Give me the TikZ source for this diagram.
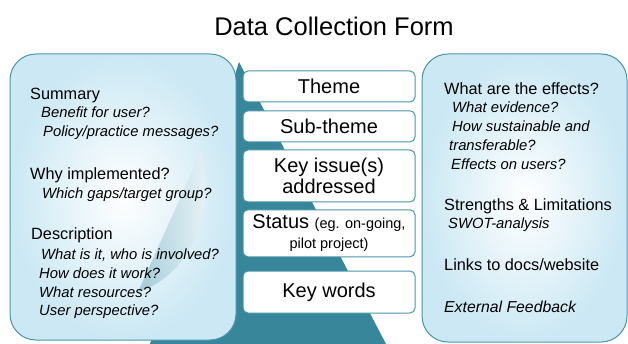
\documentclass[tikz,border=0pt]{standalone}
\usepackage{fontspec}
\setmainfont{Liberation Sans}

\definecolor{formteal}{RGB}{56,134,154}
\definecolor{formline}{RGB}{72,150,170}
\definecolor{formblue}{RGB}{203,232,244}

\tikzset{
  sidebox/.style={draw=formline, line width=1pt, rounded corners=26pt,
    inner color=white, outer color=formblue},
  itembox/.style={draw=formline, line width=1pt, fill=white, rounded corners=5pt,
    minimum width=172pt, inner sep=0pt, align=center,
    font=\fontsize{20}{21}\selectfont},
  head/.style={anchor=base west, inner sep=0pt, font=\fontsize{16.3}{18}\selectfont},
  ask/.style={anchor=base west, inner sep=0pt, font=\fontsize{14.8}{17}\selectfont\itshape},
}

\begin{document}
\begin{tikzpicture}[x=1pt, y=-1pt]
  \useasboundingbox (0,0) rectangle (628,344);
  \node[anchor=base, inner sep=0pt, font=\fontsize{25.5}{28}\selectfont] (title) at (334,36) {Data Collection Form};

  % teal wedge behind the boxes
  \fill[formteal] (239,62) -- (386,344) -- (150,344) -- cycle;

  % side panels
  \draw[sidebox] (10,54) rectangle (236,340);
  \shade[left color=formteal!55!formblue, right color=white, opacity=0.6]
    (201,152) -- (138,292) .. controls (190,275) and (216,215) .. (201,152);
  \draw[sidebox] (422,54) rectangle (627,342);

  % middle column
  \node[itembox, minimum height=31pt] (theme) at (329,86.5) {Theme};
  \node[itembox, minimum height=31pt] (subtheme) at (329,126.3) {Sub-theme};
  \node[itembox, minimum height=52pt] (issue) at (329,176) {Key issue(s)\\addressed};
  \node[itembox, minimum height=47pt] (status) at (329,233.3)
    {Status {\fontsize{14.5}{16}\selectfont (eg. on-going,}\\[-1pt]{\fontsize{14.5}{16}\selectfont pilot project)}};
  \node[itembox, minimum height=42pt] (words) at (329,292) {Key words};

  % left panel text
  \node[head] (sum) at (30,100) {Summary};
  \node[ask] (sum1) at (41,118) {Benefit for user?};
  \node[ask] (sum2) at (43,137) {Policy/practice messages?};
  \node[head] (why) at (30,180) {Why implemented?};
  \node[ask] (why1) at (42,199) {Which gaps/target group?};
  \node[head] (desc) at (31,240) {Description};
  \node[ask] (desc1) at (41,260) {What is it, who is involved?};
  \node[ask] (desc2) at (39,278) {How does it work?};
  \node[ask] (desc3) at (39,297) {What resources?};
  \node[ask] (desc4) at (39,315) {User perspective?};

  % right panel text
  \node[head] (eff) at (444,95) {What are the effects?};
  \node[ask] (eff1) at (452,113) {What evidence?};
  \node[ask] (eff2) at (452,132) {How sustainable and};
  \node[ask] (eff3) at (449,151) {transferable?};
  \node[ask] (eff4) at (451,170) {Effects on users?};
  \node[head] (swot) at (444,211) {Strengths \& Limitations};
  \node[ask] (swot1) at (448,229) {SWOT-analysis};
  \node[head] (links) at (444,270) {Links to docs/website};
  \node[head, font=\fontsize{15.8}{18}\selectfont\itshape] (ext) at (444,312) {External Feedback};
\end{tikzpicture}
\end{document}
